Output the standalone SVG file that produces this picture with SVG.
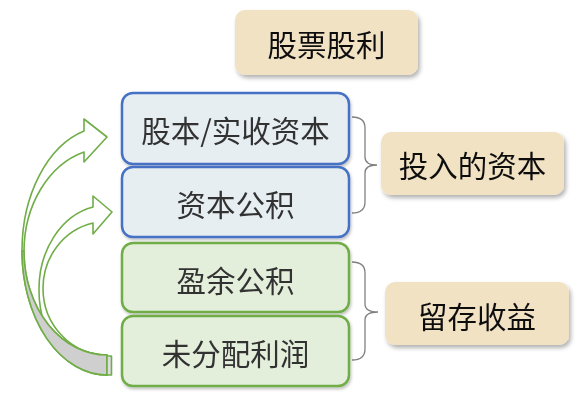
<svg xmlns="http://www.w3.org/2000/svg" width="585" height="402" viewBox="0 0 585 402">
<defs>
<filter id="sh" x="-10%" y="-10%" width="125%" height="140%">
<feDropShadow dx="2" dy="3" stdDeviation="2" flood-color="#000" flood-opacity="0.3"/>
</filter>
<filter id="sh2" x="-10%" y="-10%" width="125%" height="140%">
<feDropShadow dx="1" dy="2" stdDeviation="1.5" flood-color="#000" flood-opacity="0.25"/>
</filter>
</defs>
<style>
.t{font-family:"Noto Sans CJK SC","Microsoft YaHei",sans-serif;font-size:29.5px;text-anchor:middle;dominant-baseline:central}
.bt{fill:#333}
.kt{fill:#111}
.blue{fill:#E6EEF2;stroke:#4472C4;stroke-width:2.5}
.green{fill:#E3EFDB;stroke:#70AD47;stroke-width:2.5}
.beige{fill:#F2E2C4;stroke:none}
.arr{fill:#fff;stroke:#70AD47;stroke-width:1.6;stroke-linejoin:round}
.back{fill:#CFCFCF;stroke:#70AD47;stroke-width:1.6;stroke-linejoin:round}
.br{fill:none;stroke:#808080;stroke-width:1.3}
</style>
<g id="connectors">
<g id="arrow-inner">
<path class="arr" d="M93,207 A68,84 0 0 0 39,290 A68,85 0 0 0 107,375 L107,355 A64,66.8 0 0 1 43,288.2 A64,66.8 0 0 1 93,223 L93,234 L112,212 L93,196 Z"/>
</g>
<g id="arrow-outer">
<path class="arr" d="M84,131 A85,124.3 0 0 0 22,250.7 A85,124.3 0 0 0 107,375 L107,355 A83,103.5 0 0 1 24,251.5 A83,103.5 0 0 1 84,152 L84,162 L107,137 L84,119 Z"/>
<path class="back" d="M22,250.7 A85,124.3 0 0 0 107,375 L107,355 A83,103.5 0 0 1 24,251.5 Z"/>
<rect class="back" x="107" y="356" width="4.5" height="19" style="fill:#DDDDDD"/>
</g>
<path class="br" d="M352,117 Q365,117 365,128 L365,157 Q365,165 377,165 Q365,165 365,173 L365,202 Q365,213 352,213"/>
<path class="br" d="M352,262 Q365,262 365,273 L365,304 Q365,312 378,312 Q365,312 365,320 L365,349 Q365,360 352,360"/>
</g>
<g id="n-title" filter="url(#sh)">
<rect class="beige" x="235" y="10" width="183" height="65" rx="10"/>
<text class="t kt" x="326.5" y="42.5">股票股利</text>
</g>
<g id="n-gbsszb" filter="url(#sh2)">
<rect class="blue" x="122" y="93" width="227" height="71" rx="11"/>
<text class="t bt" x="235.5" y="129">股本/实收资本</text>
</g>
<g id="n-zbgj" filter="url(#sh2)">
<rect class="blue" x="122" y="167" width="227" height="70" rx="11"/>
<text class="t bt" x="235.5" y="203">资本公积</text>
</g>
<g id="n-yygj" filter="url(#sh2)">
<rect class="green" x="122" y="243" width="227" height="69" rx="11"/>
<text class="t bt" x="235.5" y="279">盈余公积</text>
</g>
<g id="n-wfplr" filter="url(#sh2)">
<rect class="green" x="122" y="316" width="227" height="70" rx="11"/>
<text class="t bt" x="235.5" y="352">未分配利润</text>
</g>
<g id="n-trdzb" filter="url(#sh)">
<rect class="beige" x="381" y="132" width="183" height="63" rx="10"/>
<text class="t kt" x="472.5" y="163.5">投入的资本</text>
</g>
<g id="n-lcsy" filter="url(#sh)">
<rect class="beige" x="385" y="282" width="184" height="63" rx="10"/>
<text class="t kt" x="477" y="314.5">留存收益</text>
</g>
</svg>
